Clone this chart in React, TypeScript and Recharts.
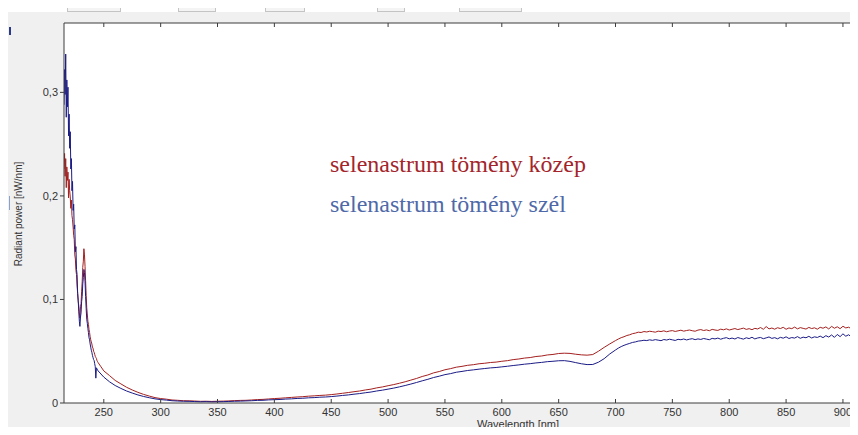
import React from 'react';
import { LineChart, Line, XAxis, YAxis, CartesianGrid } from 'recharts';

const wavelengths = [
  215, 215.5, 216, 216.5, 217, 217.5, 218, 218.5, 219, 219.5, 220, 220.5, 221, 221.5, 222, 222.5,
  223, 223.5, 224, 224.5, 225, 225.5, 226, 226.5, 227, 227.5, 228, 228.5, 229, 229.5, 230, 230.5,
  231, 231.5, 232, 232.5, 233, 233.5, 234, 234.5, 235, 235.5, 236, 236.5, 237, 237.5, 238, 238.5,
  239, 239.5, 240, 240.5, 241, 241.5, 242, 242.5, 243, 243.5, 244, 244.5, 245, 247.5, 250,
  255, 260, 265, 270, 275, 280, 285, 290, 295, 300, 305, 310, 315, 320, 325, 330, 335, 340,
  345, 350, 355, 360, 365, 370, 375, 380, 385, 390, 395, 400, 405, 410, 415, 420, 425, 430,
  435, 440, 445, 450, 455, 460, 465, 470, 475, 480, 485, 490, 495, 500, 505, 510, 515, 520,
  525, 530, 535, 540, 545, 550, 555, 560, 565, 570, 575, 580, 585, 590, 595, 600, 605, 610,
  615, 620, 625, 630, 635, 640, 645, 650, 655, 660, 665, 670, 675, 680, 685, 690, 695,
  700, 702.5, 705, 707.5, 710, 712.5, 715, 717.5, 720, 722.5, 725, 727.5, 730, 732.5, 735, 737.5,
  740, 742.5, 745, 747.5, 750, 752.5, 755, 757.5, 760, 762.5, 765, 767.5, 770, 772.5, 775, 777.5,
  780, 782.5, 785, 787.5, 790, 792.5, 795, 797.5, 800, 802.5, 805, 807.5, 810, 812.5, 815, 817.5,
  820, 822.5, 825, 827.5, 830, 832.5, 835, 837.5, 840, 842.5, 845, 847.5, 850, 852.5, 855, 857.5,
  860, 862.5, 865, 867.5, 870, 872.5, 875, 877.5, 880, 882.5, 885, 887.5, 890, 892.5, 895, 897.5,
  900, 902.5, 905, 907.5, 910, 912.5, 915,
];

// selenastrum tömény közép (red)
const centerPower = [
  0.226, 0.241, 0.219, 0.236, 0.208, 0.228, 0.215, 0.223, 0.198, 0.216, 0.205, 0.199, 0.188, 0.196,
  0.181, 0.177, 0.17, 0.162, 0.158, 0.143, 0.139, 0.128, 0.124, 0.113, 0.106, 0.098, 0.094, 0.087,
  0.082, 0.093, 0.096, 0.108, 0.117, 0.131, 0.137, 0.149, 0.143, 0.132, 0.118, 0.104, 0.092, 0.086,
  0.079, 0.076, 0.071, 0.068, 0.064, 0.061, 0.059, 0.057, 0.054, 0.053, 0.05, 0.049, 0.047, 0.045,
  0.044, 0.043, 0.041, 0.04, 0.039, 0.035, 0.031,
  0.0265, 0.0218, 0.0185, 0.0152, 0.0126, 0.0103, 0.0083, 0.0067, 0.0052, 0.0043, 0.0037, 0.0029,
  0.0026, 0.0022, 0.0021, 0.0019, 0.0016, 0.0017, 0.0015, 0.0017, 0.0018, 0.002, 0.0023, 0.0025,
  0.0026, 0.0029, 0.0033, 0.0035, 0.0039, 0.0043, 0.0046, 0.005, 0.0054, 0.0058, 0.0061, 0.0066,
  0.0069, 0.0073, 0.0076, 0.0081, 0.0087, 0.0094, 0.0101, 0.0109, 0.0116, 0.0126, 0.0134, 0.0146,
  0.0155, 0.0167, 0.0178, 0.0191, 0.0205, 0.0221, 0.0237, 0.0256, 0.0271, 0.0291, 0.0304, 0.0321,
  0.0332, 0.0346, 0.0354, 0.0364, 0.037, 0.0379, 0.0384, 0.0391, 0.0395, 0.0403, 0.0409, 0.0419,
  0.0425, 0.0434, 0.0439, 0.0449, 0.0454, 0.0464, 0.0469, 0.0478, 0.0481, 0.0479, 0.0471, 0.0465,
  0.0462, 0.0468, 0.05, 0.0537, 0.0571,
  0.0603, 0.0618, 0.0631, 0.064, 0.0652, 0.0659, 0.067, 0.0675, 0.0684, 0.0681, 0.069, 0.0686,
  0.0693, 0.0689, 0.0684, 0.0694, 0.069, 0.0697, 0.0688, 0.0695, 0.0699, 0.0691, 0.0697, 0.0703,
  0.0694, 0.07, 0.0705, 0.0698, 0.0693, 0.0704, 0.0709, 0.07, 0.0706, 0.0698, 0.0711, 0.0705,
  0.0701, 0.0713, 0.0707, 0.0716, 0.0705, 0.0712, 0.0719, 0.0709, 0.0716, 0.0723, 0.0711, 0.0718,
  0.0708, 0.0721, 0.0715, 0.0729, 0.0712, 0.0738, 0.0716, 0.0724, 0.0713, 0.0727, 0.0719, 0.0731,
  0.0712, 0.0725, 0.0718, 0.0733, 0.0716, 0.0728, 0.0721, 0.0714, 0.073, 0.0719, 0.0726, 0.0713,
  0.0731, 0.0722, 0.0735, 0.0715, 0.074, 0.0722, 0.0736, 0.0718, 0.0741, 0.0725, 0.0732, 0.0716,
  0.0738, 0.0723, 0.0731,
];

// selenastrum tömény szél (blue)
const edgePower = [
  0.288, 0.322, 0.298, 0.337, 0.276, 0.312, 0.286, 0.305, 0.258, 0.279, 0.246, 0.262, 0.226, 0.236,
  0.205, 0.214, 0.186, 0.192, 0.168, 0.172, 0.146, 0.151, 0.129, 0.124, 0.106, 0.099, 0.088, 0.079,
  0.074, 0.083, 0.087, 0.098, 0.103, 0.115, 0.121, 0.129, 0.126, 0.117, 0.103, 0.091, 0.081, 0.077,
  0.072, 0.068, 0.063, 0.061, 0.057, 0.054, 0.051, 0.049, 0.046, 0.044, 0.042, 0.041, 0.038, 0.035,
  0.024, 0.034, 0.033, 0.032, 0.031, 0.028, 0.025,
  0.0205, 0.0169, 0.0141, 0.0116, 0.0096, 0.0078, 0.0063, 0.0051, 0.004, 0.0033, 0.0028, 0.0022,
  0.0019, 0.0017, 0.0016, 0.0014, 0.0012, 0.0013, 0.0011, 0.0012, 0.0013, 0.0015, 0.0017, 0.0018,
  0.002, 0.0022, 0.0025, 0.0026, 0.003, 0.0032, 0.0034, 0.0038, 0.004, 0.0044, 0.0046, 0.005,
  0.0052, 0.0056, 0.0058, 0.0062, 0.0067, 0.0073, 0.0078, 0.0085, 0.0091, 0.0099, 0.0106, 0.0116,
  0.0124, 0.0134, 0.0144, 0.0156, 0.0169, 0.0183, 0.0198, 0.0214, 0.0229, 0.0246, 0.0259, 0.0274,
  0.0284, 0.0297, 0.0305, 0.0314, 0.032, 0.0327, 0.0333, 0.0339, 0.0343, 0.0349, 0.0355, 0.0362,
  0.0368, 0.0375, 0.038, 0.0387, 0.0392, 0.0399, 0.0403, 0.0408, 0.0409, 0.0402, 0.039, 0.0379,
  0.0371, 0.0372, 0.0394, 0.0428, 0.0474,
  0.0512, 0.053, 0.0545, 0.0557, 0.0567, 0.0576, 0.0585, 0.059, 0.0598, 0.0601, 0.0606, 0.0603,
  0.061, 0.0605, 0.0612, 0.0607, 0.0602, 0.0613, 0.0608, 0.0616, 0.061, 0.0604, 0.0615, 0.0611,
  0.0618, 0.0609, 0.0616, 0.0621, 0.0612, 0.0619, 0.0614, 0.0623, 0.0617, 0.0611, 0.0624, 0.0619,
  0.0627, 0.0616, 0.0625, 0.0631, 0.062, 0.0627, 0.0618, 0.0632, 0.0624, 0.0617, 0.063, 0.0622,
  0.0635, 0.0619, 0.0628, 0.0633, 0.0621, 0.0629, 0.0638, 0.0624, 0.0631, 0.062, 0.0634, 0.0626,
  0.0639, 0.0623, 0.0632, 0.0627, 0.0641, 0.0625, 0.0636, 0.063, 0.0644, 0.0628, 0.0639, 0.0633,
  0.0646, 0.0631, 0.065, 0.0637, 0.0657, 0.0634, 0.0662, 0.0641, 0.0668, 0.0645, 0.0659, 0.0638,
  0.0663, 0.0647, 0.0656,
];

const xTicks = [250, 300, 350, 400, 450, 500, 550, 600, 650, 700, 750, 800, 850, 900];
const yTicks = [0, 0.1, 0.2, 0.3];
const seriesNames = ['selenastrum tömény közép', 'selenastrum tömény szél'];
const xTitle = 'Wavelength [nm]';
const yTitle = 'Radiant power [nW/nm]';

const data = wavelengths.map((w, i) => ({ w, kozep: centerPower[i], szel: edgePower[i] }));

const AXIS = '#3c3c3c';
const FONT = '"Liberation Sans", Arial, sans-serif';

const BottomTick = (props: any) => {
  const { x, y, payload } = props;
  return (
    <g>
      <line x1={x} x2={x} y1={y - 5} y2={y - 9} stroke={AXIS} strokeWidth={1} />
      <text x={x} y={y} dy="0.71em" textAnchor="middle" fontSize={11} fontFamily={FONT} fill="#333">
        {payload.value}
      </text>
    </g>
  );
};

const TopTick = (props: any) => {
  const { x, y } = props;
  return <line x1={x} x2={x} y1={y} y2={y + 4} stroke={AXIS} strokeWidth={1} />;
};

const fmtY = (v: number) => (v === 0 ? '0' : String(v).replace('.', ','));

export default function App() {
  return (
    <div
      style={{
        position: 'relative',
        margin: -8,
        width: 858,
        height: 435,
        overflow: 'hidden',
        background: '#f0f0f0',
      }}
    >
      <div style={{ position: 'absolute', left: 0, top: 0, width: 858, height: 12, background: '#ffffff' }} />
      <div style={{ position: 'absolute', left: 0, top: 0, width: 8, height: 435, background: '#ffffff' }} />
      {[
        [67, 54],
        [178, 38],
        [265, 40],
        [377, 28],
        [459, 63],
      ].map(([l, w], i) => (
        <div
          key={i}
          style={{
            position: 'absolute',
            left: l,
            top: -6,
            width: w,
            height: 18,
            border: '1px solid #c4c4c4',
            boxSizing: 'border-box',
            background: '#f4f4f4',
          }}
        />
      ))}
      <div style={{ position: 'absolute', left: 9, top: 27, width: 2, height: 8, background: '#2a3a8a' }} />
      <div style={{ position: 'absolute', left: 9, top: 196, width: 1, height: 14, background: '#8aa0d0' }} />
      <div style={{ position: 'absolute', left: 0, top: 0, width: 900 }}>
        <LineChart width={875} height={435} data={data} margin={{ top: 22, right: 15, bottom: 0, left: 8 }}>
          <CartesianGrid horizontal={false} vertical={false} fill="#ffffff" stroke="none" />
          <XAxis
            xAxisId="bottom"
            dataKey="w"
            type="number"
            domain={[215, 915]}
            allowDataOverflow
            ticks={xTicks}
            height={32}
            tickSize={0}
            tickMargin={5}
            tickLine={false}
            axisLine={{ stroke: AXIS }}
            tick={<BottomTick />}
            interval={0}
          />
          <XAxis
            xAxisId="top"
            orientation="top"
            dataKey="w"
            type="number"
            domain={[215, 915]}
            allowDataOverflow
            ticks={xTicks}
            height={1}
            tickSize={0}
            tickMargin={0}
            tickLine={false}
            axisLine={{ stroke: AXIS }}
            tick={<TopTick />}
            interval={0}
          />
          <YAxis
            type="number"
            domain={[0, 0.367]}
            allowDataOverflow
            ticks={yTicks}
            width={56}
            tickSize={4}
            tickMargin={2}
            tickFormatter={fmtY}
            axisLine={{ stroke: AXIS }}
            tickLine={{ stroke: AXIS }}
            tick={{ fontSize: 11, fontFamily: FONT, fill: '#333' }}
            interval={0}
          />
          <Line
            xAxisId="bottom"
            dataKey="kozep"
            stroke="#a3201f"
            strokeWidth={1}
            dot={false}
            isAnimationActive={false}
            type="linear"
          />
          <Line
            xAxisId="bottom"
            dataKey="szel"
            stroke="#1b1b86"
            strokeWidth={1}
            dot={false}
            isAnimationActive={false}
            type="linear"
          />
        </LineChart>
      </div>
      <svg width={858} height={435} style={{ position: 'absolute', left: 0, top: 0, pointerEvents: 'none' }}>
        <text x={330} y={172} fontFamily='"Liberation Serif", "Times New Roman", serif' fontSize={24} fill="#a3252b">
          {seriesNames[0]}
        </text>
        <text x={330} y={212} fontFamily='"Liberation Serif", "Times New Roman", serif' fontSize={24} fill="#4f69a8">
          {seriesNames[1]}
        </text>
        <text x={518} y={428} textAnchor="middle" fontFamily={FONT} fontSize={11} fill="#333">
          {xTitle}
        </text>
        <text
          x={0}
          y={0}
          transform="translate(22 214) rotate(-90)"
          textAnchor="middle"
          fontFamily={FONT}
          fontSize={10}
          fill="#333"
        >
          {yTitle}
        </text>
      </svg>
    </div>
  );
}
